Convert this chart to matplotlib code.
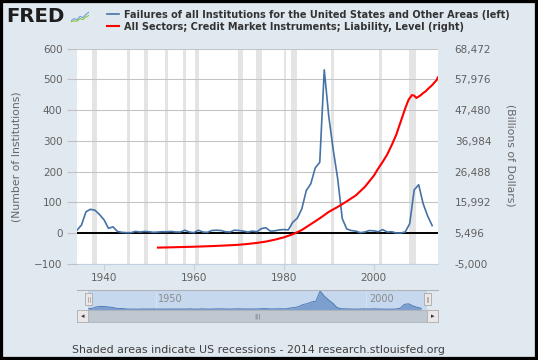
import numpy as np
import matplotlib as mpl
import matplotlib.pyplot as plt
from matplotlib.patches import Rectangle
from matplotlib.lines import Line2D

W, H = 538, 360
BG = '#e1e9f0'

# Failures of all institutions, annual (left axis)
fail_years = list(range(1934, 2014))
failures = [9, 26, 69, 77, 74, 60, 43, 15, 20, 5,
            2, 1, 1, 5, 3, 5, 4, 2, 3, 4,
            4, 5, 3, 3, 9, 3, 1, 9, 3, 2,
            8, 9, 8, 4, 3, 9, 8, 6, 3, 6,
            4, 14, 17, 6, 7, 10, 11, 10, 35, 48,
            78, 138, 160, 212, 230, 531, 380, 270, 175, 47,
            13, 8, 6, 1, 3, 8, 7, 4, 11, 3,
            4, 0, 0, 3, 30, 140, 157, 95, 55, 24]

# All sectors credit market instruments, billions (right axis)
debt_years = [1952, 1954, 1956, 1958, 1960, 1962, 1964, 1966, 1968, 1970,
              1972, 1974, 1976, 1978, 1980, 1982, 1984, 1986, 1988, 1990,
              1992, 1994, 1996, 1998, 2000, 2001, 2002, 2003, 2004, 2005,
              2006, 2007, 2007.75, 2008.5, 2009.0, 2009.5, 2010.0, 2010.5,
              2011.0, 2011.5, 2012.0, 2012.5, 2013.0, 2013.5, 2014.0, 2014.25]
debt = [500, 560, 640, 720, 800, 900, 1020, 1150, 1300, 1470,
        1750, 2100, 2550, 3200, 4000, 5050, 6500, 8500, 10500, 12700,
        14400, 16300, 18300, 21200, 25000, 27500, 29800, 32300, 35500, 39000,
        43500, 48000, 51000, 52600, 52400, 51600, 52100, 52600,
        53300, 53800, 54600, 55300, 56000, 56900, 57700, 58600]

recessions = [(1937.33, 1938.42), (1945.08, 1945.75), (1948.83, 1949.75),
              (1953.5, 1954.33), (1957.58, 1958.25), (1960.25, 1961.08),
              (1969.92, 1970.83), (1973.83, 1975.17), (1980.0, 1980.5),
              (1981.5, 1982.83), (1990.5, 1991.17), (2001.17, 2001.83),
              (2007.92, 2009.42)]

left_ticks = list(range(-100, 601, 100))
right_ticks = [-5000 + 10496 * k for k in range(8)]
x_ticks = [1940, 1960, 1980, 2000]
nav_ticks = [1950, 2000]

label_left = 'Failures of all Institutions for the United States and Other Areas (left)'
label_right = 'All Sectors; Credit Market Instruments; Liability, Level (right)'

fig = plt.figure(figsize=(W / 100, H / 100), dpi=100, facecolor=BG)

ax = fig.add_axes([77 / W, 1 - 263.7 / H, 361 / W, 215.1 / H])
ax.set_facecolor('white')
for a, b in recessions:
    ax.axvspan(a, b, color='#e4e4e4', lw=0, zorder=0)
ax.set_ylim(-100, 600)
ax.set_yticks(left_ticks)
ax.grid(axis='y', color='#c4c4c4', lw=0.75, zorder=1)
ax.axhline(0, color='black', lw=1.4, zorder=3)
blue, = ax.plot(fail_years, failures, color='#4572a7', lw=1.2, zorder=4)
ax.set_xlim(1934, 2014.3)
ax.set_xticks(x_ticks)

for s in ['top', 'left', 'right']:
    ax.spines[s].set_visible(False)
ax.spines['bottom'].set_color('#c0d0e0')
ax.tick_params(axis='y', length=7, color='#c0c0c0', pad=3.5, labelsize=7.5, labelcolor='#606060')
ax.tick_params(axis='x', length=4, color='#c0d0e0', pad=2.5, labelsize=7.5, labelcolor='#606060')

ax2 = ax.twinx()
red, = ax2.plot(debt_years, debt, color='#ff0000', lw=1.5, zorder=5)
ax2.set_ylim(-5000, 68472)
ax2.set_yticks(right_ticks)
ax2.set_yticklabels(['{:,}'.format(v) for v in right_ticks])
for s in ax2.spines.values():
    s.set_visible(False)
ax2.tick_params(axis='y', length=0, pad=12, labelsize=7.5, labelcolor='#606060')
for lbl in ax2.get_yticklabels():
    lbl.set_ha('left')

fig.text(16.5 / W, 1 - 156.5 / H, '(Number of Institutions)', rotation=90,
         ha='center', va='center', fontsize=7.8, color='#666666')
fig.text(510 / W, 1 - 155.5 / H, '(Billions of Dollars)', rotation=270,
         ha='center', va='center', fontsize=7.8, color='#666666')

fig.legend(handles=[blue, red], labels=[label_left, label_right],
           loc='upper left', bbox_to_anchor=(107 / W, 1 - 9.5 / H),
           frameon=False, prop={'size': 7, 'weight': 'bold'}, labelcolor='#333333',
           handlelength=1.25, handletextpad=0.5, labelspacing=0.22,
           borderpad=0, borderaxespad=0)

# FRED logo
fig.text(6 / W, 1 - 16.5 / H, 'FRED', fontsize=14.2, weight='heavy', color='#1e1e1e', va='center')
icon = fig.add_axes([71 / W, 1 - 23 / H, 18 / W, 12 / H])
icon.set_facecolor('#eef2f6')
icon.plot([0, 1, 2, 3, 4, 5, 6], [1, 2, 1.5, 3, 2.5, 4, 5], color='#6f9fd8', lw=0.8)
icon.plot([0, 1, 2, 3, 4, 5, 6], [0.5, 1, 0.8, 2, 1.6, 2.8, 3.5], color='#8cc63f', lw=0.8)
icon.set_xlim(0, 6)
icon.set_ylim(0, 5.5)
icon.axis('off')

# navigator
nav = fig.add_axes([88.3 / W, 1 - 310 / H, 338.4 / W, 20 / H])
nav.set_facecolor('#c6d8ee')
nav.fill_between(fail_years, failures, -40, color='#7c9fd0', lw=0, zorder=2)
nav.plot(fail_years, failures, color='#4f7bb5', lw=0.7, zorder=3)
nav.set_xlim(1934, 2014.3)
nav.set_ylim(-25, 560)
nav.set_xticks(nav_ticks)
nav.grid(axis='x', color='#d6e2f1', lw=0.8, zorder=1)
nav.tick_params(length=0, labelbottom=False, labelleft=False)
nav.set_yticks([])
for s in nav.spines.values():
    s.set_visible(False)
for yr in nav_ticks:
    nav.text(yr + 0.6, 0.55, str(yr), transform=nav.get_xaxis_transform(),
             fontsize=7, color='#8a8a8a', va='center', ha='left', zorder=4)

fig.add_artist(Line2D([77 / W, 438 / W], [1 - 290 / H, 1 - 290 / H],
                      color='#b0b3b8', lw=0.8))
for hx in [85, 423.5]:
    fig.add_artist(Rectangle((hx / W, 1 - 305 / H), 7 / W, 12 / H, facecolor='#ebe7e8',
                             edgecolor='#a9a9a9', lw=0.6))
    fig.add_artist(Line2D([(hx + 3) / W, (hx + 3) / W], [1 - 302 / H, 1 - 297 / H],
                          color='#999999', lw=0.5))
    fig.add_artist(Line2D([(hx + 4.5) / W, (hx + 4.5) / W], [1 - 302 / H, 1 - 297 / H],
                          color='#999999', lw=0.5))

# scrollbar
fig.add_artist(Rectangle((77 / W, 1 - 321.7 / H), 361 / W, 11.7 / H,
                         facecolor='#bfc8d1', edgecolor='#b0b3b8', lw=0.6))
for bx in [77, 427]:
    fig.add_artist(Rectangle((bx / W, 1 - 321.7 / H), 11 / W, 11.7 / H,
                             facecolor='#ebe7e8', edgecolor='#b0b0b0', lw=0.6))
fig.text(82.5 / W, 1 - 316 / H, '\u25c2', fontsize=5, color='#333333', ha='center', va='center')
fig.text(432.5 / W, 1 - 316 / H, '\u25b8', fontsize=5, color='#333333', ha='center', va='center')
fig.text(257 / W, 1 - 316 / H, '|||', fontsize=4.5, color='#777777', ha='center', va='center')

fig.text(72 / W, 1 - 350 / H, 'Shaded areas indicate US recessions - 2014 research.stlouisfed.org',
         fontsize=7.9, color='#404040', va='center')

fig.add_artist(Rectangle((0, 0), 1, 1, transform=fig.transFigure, fill=False,
                         edgecolor='black', lw=4.5, zorder=10))

fig.savefig('out.png', dpi=100, facecolor=BG)
